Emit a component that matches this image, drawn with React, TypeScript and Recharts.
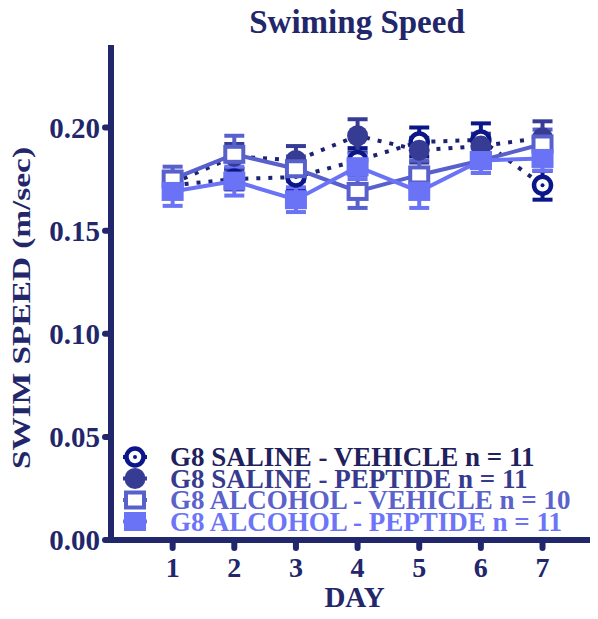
import React from "react";
import { LineChart, Line, XAxis, YAxis, ErrorBar } from "recharts";

const days = [1, 2, 3, 4, 5, 6, 7];
const salineVehicle = [0.172, 0.175, 0.176, 0.184, 0.193, 0.194, 0.172];
const salineVehicleErr = [0.005, 0.005, 0.006, 0.006, 0.007, 0.008, 0.007];
const salinePeptide = [0.173, 0.186, 0.184, 0.196, 0.189, 0.191, 0.195];
const salinePeptideErr = [0.005, 0.006, 0.007, 0.008, 0.006, 0.006, 0.008];
const alcoholVehicle = [0.175, 0.187, 0.18, 0.169, 0.177, 0.184, 0.192];
const alcoholVehicleErr = [0.006, 0.009, 0.006, 0.008, 0.007, 0.006, 0.007];
const alcoholPeptide = [0.169, 0.174, 0.165, 0.181, 0.169, 0.184, 0.185];
const alcoholPeptideErr = [0.007, 0.007, 0.006, 0.006, 0.008, 0.006, 0.006];
const yTicks = [0, 0.05, 0.1, 0.15, 0.2];

const data = days.map((d, i) => ({
  day: d,
  sv: salineVehicle[i],
  svErr: salineVehicleErr[i],
  sp: salinePeptide[i],
  spErr: salinePeptideErr[i],
  av: alcoholVehicle[i],
  avErr: alcoholVehicleErr[i],
  ap: alcoholPeptide[i],
  apErr: alcoholPeptideErr[i],
}));

const AXIS = "#22266a";
const FONT = "'Liberation Serif', 'Times New Roman', serif";

const series = [
  { key: "sv", label: "G8 SALINE - VEHICLE n = 11", color: "#0b1788", text: "#1f215c", shape: "openCircle", dashed: true },
  { key: "sp", label: "G8 SALINE - PEPTIDE n = 11", color: "#363c94", text: "#363b8e", shape: "circle", dashed: true },
  { key: "av", label: "G8 ALCOHOL - VEHICLE n = 10", color: "#5860cc", text: "#5b62cc", shape: "openSquare", dashed: false },
  { key: "ap", label: "G8 ALCOHOL - PEPTIDE n = 11", color: "#6a73f6", text: "#6c74f8", shape: "square", dashed: false },
];

function Marker({ cx, cy, shape, color }: any) {
  if (cx == null || cy == null) return null;
  if (shape === "openCircle")
    return (
      <g>
        <circle cx={cx} cy={cy} r={8.5} fill="#fff" stroke={color} strokeWidth={4.5} />
        <circle cx={cx} cy={cy} r={2} fill={color} />
      </g>
    );
  if (shape === "circle") return <circle cx={cx} cy={cy} r={10.5} fill={color} />;
  if (shape === "openSquare")
    return <rect x={cx - 9} y={cy - 7.5} width={18} height={15} fill="#fff" stroke={color} strokeWidth={4} />;
  return <rect x={cx - 11} y={cy - 9.5} width={22} height={19} fill={color} />;
}

// legend drawn as an overlay so it doesn't steal space from the plot
function LegendBox() {
  return (
    <svg width={478} height={94} style={{ position: "absolute", left: 112, top: 437 }}>
      {series.map((s, i) => {
        const y = 12 + i * 21.5;
        return (
          <g key={s.key}>
            <line x1={3} x2={27} y1={y} y2={y} stroke={s.color} strokeWidth={4} />
            <Marker cx={15} cy={y} shape={s.shape} color={s.color} />
            <text x={50} y={y + 9} fill={s.text} fontSize={27} fontWeight="bold" fontFamily={FONT}>
              {s.label}
            </text>
          </g>
        );
      })}
    </svg>
  );
}

export default function App() {
  return (
    <div style={{ position: "relative", width: 590, height: 603, fontFamily: FONT }}>
      <div
        style={{
          position: "absolute",
          left: 102,
          top: -4,
          width: 494,
          textAlign: "center",
          fontSize: 33,
          fontWeight: "bold",
          color: AXIS,
          zIndex: 2,
        }}
      >
        Swiming Speed
      </div>
      <LineChart width={590} height={603} data={data} margin={{ top: 37, right: 0, bottom: 0, left: 0 }}>
        <XAxis
          dataKey="day"
          type="number"
          domain={[0, 7.9]}
          ticks={days}
          allowDataOverflow
          height={71}
          stroke={AXIS}
          strokeWidth={6}
          tickSize={8}
          tickMargin={9}
          tickLine={{ stroke: AXIS, strokeWidth: 6, strokeLinecap: "round" }}
          tick={{ fill: AXIS, fontSize: 28, fontWeight: "bold", fontFamily: FONT }}
          label={{ value: "DAY", position: "insideBottom", offset: 4, fill: AXIS, fontSize: 29, fontWeight: "bold", fontFamily: FONT }}
        />
        <YAxis
          type="number"
          domain={[0, 0.24]}
          ticks={yTicks}
          width={103}
          stroke={AXIS}
          strokeWidth={6}
          tickSize={6}
          tickMargin={5}
          tickLine={{ stroke: AXIS, strokeWidth: 6, strokeLinecap: "round" }}
          tickFormatter={(v: number) => v.toFixed(2)}
          tick={{ fill: AXIS, fontSize: 29, fontWeight: "bold", fontFamily: FONT }}
          label={{
            content: () => (
              <text
                x={22}
                y={300}
                transform="rotate(-90 22 300)"
                textAnchor="middle"
                fill={AXIS}
                fontSize={26}
                fontWeight="bold"
                fontFamily={FONT}
                textLength={322}
                lengthAdjust="spacingAndGlyphs"
              >
                SWIM SPEED (m/sec)
              </text>
            ),
          }}
        />
        {series.map((s) => (
          <Line
            key={s.key}
            dataKey={s.key}
            stroke={s.dashed ? "#1c2270" : s.color}
            strokeWidth={4}
            strokeDasharray={s.dashed ? "4 8" : undefined}
            isAnimationActive={false}
            dot={(p: any) => <Marker key={`${s.key}-${p.index}`} cx={p.cx} cy={p.cy} shape={s.shape} color={s.color} />}
            activeDot={false}
          >
            <ErrorBar dataKey={`${s.key}Err`} width={10} stroke={s.color} strokeWidth={4} direction="y" />
          </Line>
        ))}
      </LineChart>
      <LegendBox />
    </div>
  );
}
